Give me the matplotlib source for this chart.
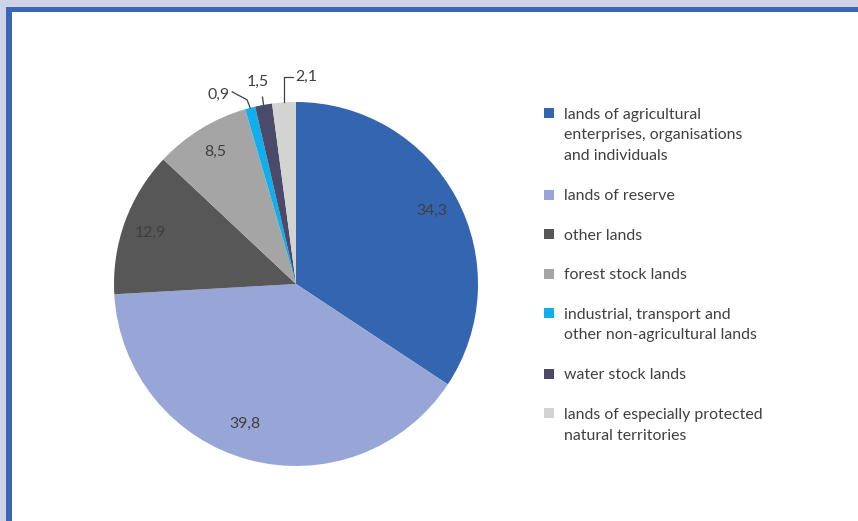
import numpy as np
import matplotlib
matplotlib.use("Agg")
import matplotlib.pyplot as plt
from matplotlib.patches import Rectangle

# land categories (share, %)
labels = [
    "lands of agricultural\nenterprises, organisations\nand individuals",
    "lands of reserve",
    "other lands",
    "forest stock lands",
    "industrial, transport and\nother non-agricultural lands",
    "water stock lands",
    "lands of especially protected\nnatural territories",
]
values = [34.3, 39.8, 12.9, 8.5, 0.9, 1.5, 2.1]
colors = ["#3465B0", "#97A6D6", "#575757", "#A5A5A5", "#10AEEA", "#4B4A6B", "#D3D3D3"]

W, H = 858, 521
FONT = "Lato"
FS = 11.4
TXT = "#404040"

fig = plt.figure(figsize=(W / 100, H / 100), dpi=100)

# frame: lavender outer band, blue border, white interior
fig.patches.append(Rectangle((0, 0), 1, 1, transform=fig.transFigure,
                             facecolor="#CED3E8", edgecolor="none", zorder=-3))
fig.patches.append(Rectangle((6 / W, -0.1), 1.2, 1.1 - 7 / H, transform=fig.transFigure,
                             facecolor="#3A67B5", edgecolor="none", zorder=-2))
fig.patches.append(Rectangle((12 / W, -0.1), 1.2, 1.1 - 12 / H, transform=fig.transFigure,
                             facecolor="white", edgecolor="none", zorder=-1))

# pie axes: centre (296, 284) px, radius 182 px
cx, cy, r = 296, 284, 182
ax = fig.add_axes([(cx - r) / W, (H - cy - r) / H, 2 * r / W, 2 * r / H])
wedges, _ = ax.pie(values, colors=colors, startangle=90, counterclock=False,
                   radius=1, wedgeprops=dict(linewidth=0))
ax.set_xlim(-1, 1)
ax.set_ylim(-1, 1)
ax.set_aspect("equal")
ax.axis("off")


def fmt(v):
    return f"{v:.1f}".replace(".", ",")


def mid(w):
    a = np.deg2rad((w.theta1 + w.theta2) / 2)
    return np.cos(a), np.sin(a)


# labels inside the big slices
nudge = {1: (-0.06, 0.05), 2: (0.0, -0.01)}
for i in range(4):
    mx, my = mid(wedges[i])
    dx, dy = nudge.get(i, (0, 0))
    ax.text(0.85 * mx + dx, 0.85 * my + dy, fmt(values[i]), ha="center", va="center",
            fontsize=FS, family=FONT, color=TXT)

# small slices: leader lines from the slice edge
line_kw = dict(color="#404040", lw=0.9, clip_on=False)
mx, my = mid(wedges[4])
ax.plot([mx, mx - 0.017, mx - 0.099], [my, my + 0.044, my + 0.088], **line_kw)
ax.text(mx - 0.112, my + 0.07, fmt(values[4]), ha="right", va="center",
        fontsize=FS, family=FONT, color=TXT)

mx, my = mid(wedges[5])
ax.plot([mx, mx - 0.006], [my, my + 0.043], **line_kw)
ax.text(mx - 0.03, my + 0.127, fmt(values[5]), ha="center", va="center",
        fontsize=FS, family=FONT, color=TXT)

mx, my = mid(wedges[6])
ax.plot([mx, mx, mx + 0.05], [my, my + 0.137, my + 0.137], **line_kw)
ax.text(mx + 0.062, my + 0.142, fmt(values[6]), ha="left", va="center",
        fontsize=FS, family=FONT, color=TXT)

# legend
y = 113
for lab, col in zip(labels, colors):
    fig.patches.append(Rectangle((544 / W, 1 - (y + 5) / H), 10 / W, 10 / H,
                                 transform=fig.transFigure, facecolor=col, edgecolor="none"))
    lines = lab.split("\n")
    for k, line in enumerate(lines):
        fig.text(564 / W, 1 - (y + 1.5 + 21 * k) / H, line, ha="left", va="center",
                 fontsize=FS, family=FONT, color=TXT)
    y += 39.5 + 21 * (len(lines) - 1)

fig.savefig("out.png", dpi=100)
